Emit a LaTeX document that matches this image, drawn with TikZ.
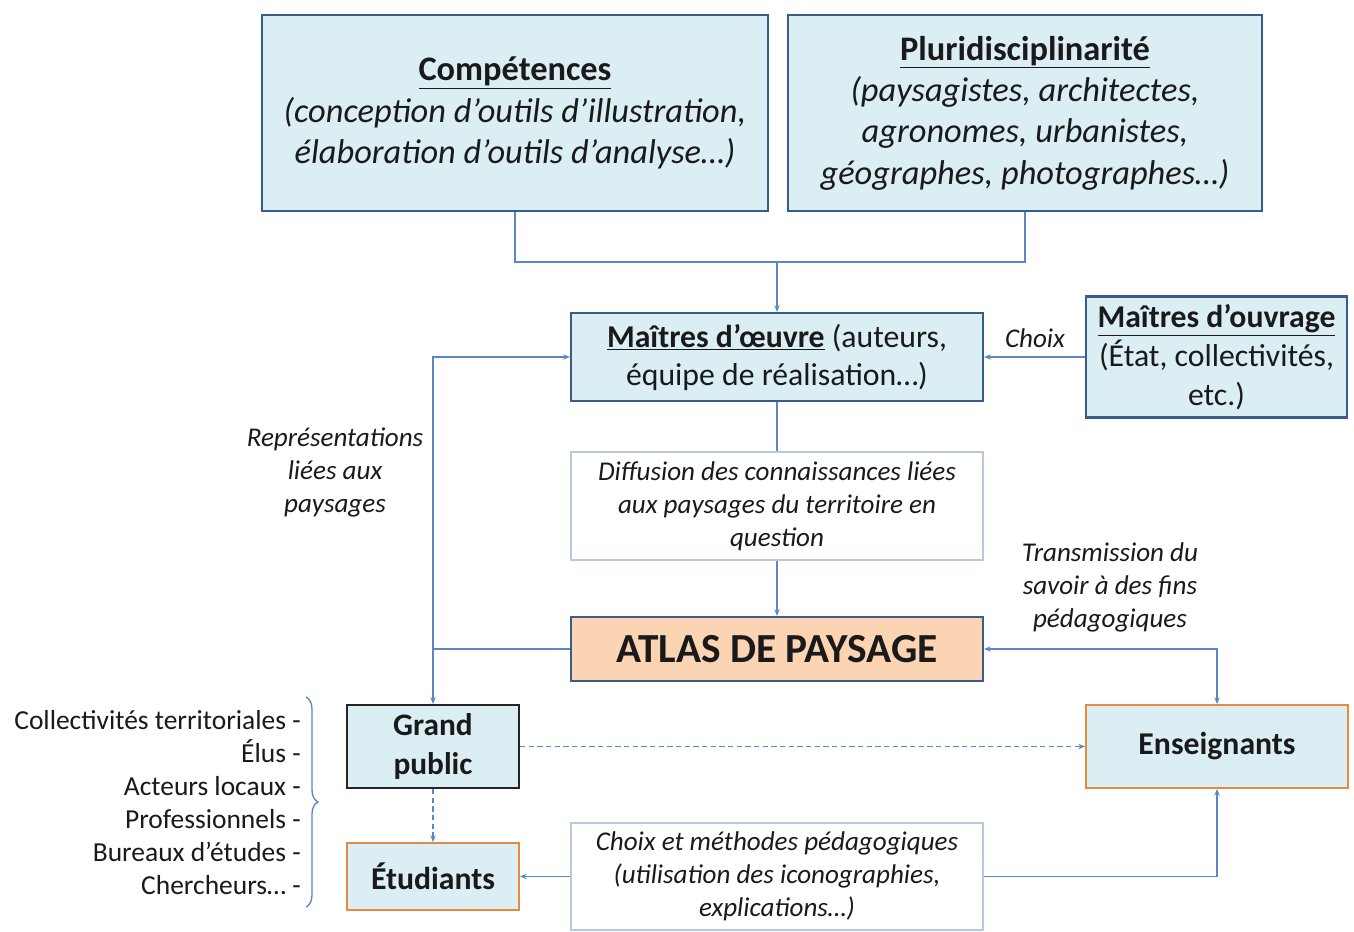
\documentclass[tikz,border=0pt]{standalone}
\usepackage{fontspec}
\setmainfont{Carlito}
\usetikzlibrary{arrows.meta,decorations.pathreplacing}
\definecolor{boxfill}{HTML}{DBEEF4}
\definecolor{boxdraw}{HTML}{385D8A}
\definecolor{linec}{HTML}{5B87C5}
\definecolor{peach}{HTML}{FBD4B4}
\definecolor{orangec}{HTML}{E68A3C}
\definecolor{thinc}{HTML}{B9C9DC}
\definecolor{txt}{HTML}{1A1A1A}
\tikzset{
  x=0.75pt, y=-0.75pt,
  every node/.style={text=txt, inner sep=0pt},
  bluebox/.style={draw=boxdraw, fill=boxfill, line width=1.6pt, align=center},
  orbox/.style={draw=orangec, fill=boxfill, line width=1.4pt, align=center},
  whitebox/.style={draw=thinc, fill=white, line width=0.8pt, align=center},
  conn/.style={draw=linec, line width=1pt},
  arr/.style={conn, -{Stealth[length=5pt,width=4pt]}},
  darr/.style={arr, dashed, dash pattern=on 4pt off 2.5pt},
  lab/.style={align=center, font=\fontsize{20.3}{24.75}\selectfont\itshape},
}
\begin{document}
\begin{tikzpicture}
\path[fill=white] (0,0) rectangle (1354,932);
% boxes
\node[bluebox, minimum width=379.5pt, minimum height=147pt,
  font=\fontsize{25.8}{31}\selectfont] (comp) at (515,113)
  {\textbf{\underline{Compétences}}\\ \textit{(conception d’outils d’illustration,}\\ \textit{élaboration d’outils d’analyse…)}};
\node[bluebox, minimum width=355.5pt, minimum height=147pt,
  font=\fontsize{25.8}{31}\selectfont] (plur) at (1025,113)
  {\textbf{\underline{Pluridisciplinarité}}\\ \textit{(paysagistes, architectes,}\\ \textit{agronomes, urbanistes,}\\ \textit{géographes, photographes…)}};
\node[bluebox, minimum width=309pt, minimum height=66pt,
  font=\fontsize{23.8}{28.5}\selectfont] (oeuvre) at (777,357)
  {\textbf{\underline{Maîtres d’œuvre}} (auteurs,\\ équipe de réalisation…)};
\node[bluebox, minimum width=195.75pt, minimum height=90.75pt,
  font=\fontsize{23.8}{29}\selectfont] (ouvrage) at (1216.5,357)
  {\textbf{\underline{Maîtres d’ouvrage}}\\ (État, collectivités,\\ etc.)};
\node[whitebox, minimum width=309pt, minimum height=81pt, lab] (diff) at (777,506)
  {Diffusion des connaissances liées\\ aux paysages du territoire en\\ question};
\node[bluebox, fill=peach, minimum width=309pt, minimum height=48pt,
  font=\fontsize{31}{34}\selectfont\bfseries] (atlas) at (777,649)
  {ATLAS DE PAYSAGE};
\node[bluebox, draw=black!85, minimum width=129pt, minimum height=62.25pt,
  font=\fontsize{23.5}{29.5}\selectfont\bfseries] (gp) at (433,746.5)
  {Grand\\ public};
\node[orbox, minimum width=129pt, minimum height=50.25pt,
  font=\fontsize{23.8}{29.5}\selectfont\bfseries] (etu) at (433,876.5)
  {Étudiants};
\node[orbox, minimum width=196.5pt, minimum height=62.25pt,
  font=\fontsize{23.8}{29.5}\selectfont\bfseries] (ens) at (1217,746.5)
  {Enseignants};
\node[whitebox, minimum width=309pt, minimum height=80.25pt, lab] (choix) at (777,876.5)
  {Choix et méthodes pédagogiques\\ (utilisation des iconographies,\\ explications…)};
% labels
\node[lab] (lchoix) at (1035,338) {Choix};
\node[lab] (lrep) at (335,472) {Représentations\\ liées aux\\ paysages};
\node[lab] (ltrans) at (1110,587) {Transmission du\\ savoir à des fins\\ pédagogiques};
\node[align=right, anchor=east, font=\fontsize{20.6}{24.75}\selectfont] (list) at (301,803)
  {Collectivités territoriales -\\ Élus -\\ Acteurs locaux -\\ Professionnels -\\ Bureaux d’études -\\ Chercheurs… -};
% connectors
\coordinate (j1) at (777,262);
\coordinate (L) at (433,649);
\coordinate (bt) at (306,697);
\coordinate (bb) at (306,907);
\draw[conn] (comp.south) |- (j1) -| (plur.south);
\draw[arr] (j1) -- (oeuvre.north);
\draw[arr] (ouvrage.west) -- (oeuvre.east);
\draw[conn] (oeuvre.south) -- (diff.north);
\draw[arr] (diff.south) -- (atlas.north);
\draw[conn] (atlas.west) -- (L);
\draw[arr] (L) |- (oeuvre.west);
\draw[arr] (L) -- (gp.north);
\draw[arr, {Stealth[length=5pt,width=4pt]}-{Stealth[length=5pt,width=4pt]}] (atlas.east) -| (ens.north);
\draw[darr] (gp.east) -- (ens.west);
\draw[darr] (gp.south) -- (etu.north);
\draw[arr] (choix.east) -| (ens.south);
\draw[arr] (choix.west) -- (etu.east);
\draw[conn, decorate, decoration={brace, amplitude=9pt}] (bt) -- (bb);
\end{tikzpicture}
\end{document}
